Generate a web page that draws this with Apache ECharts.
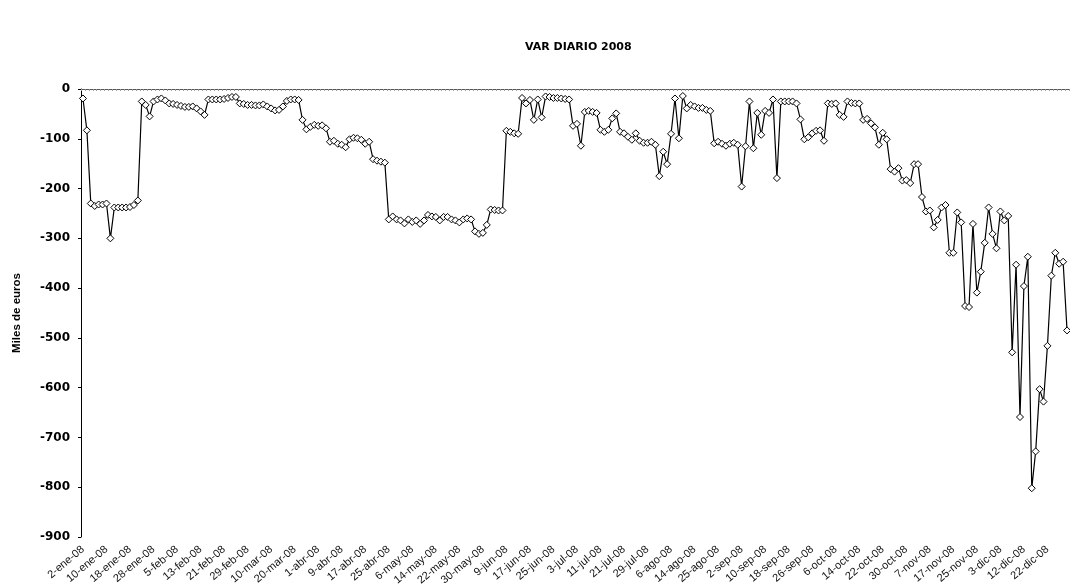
<!DOCTYPE html>
<html>
<head>
<meta charset="utf-8">
<script src="https://cdn.jsdelivr.net/npm/echarts@6/dist/echarts.min.js"></script>
<style>
  html, body { margin: 0; padding: 0; background: #fff; }
  #chart { width: 1070px; height: 588px; }
</style>
</head>
<body>
<div id="chart"></div>
<script>
// Trading days (categories)
const dates = [
  '2-ene-08','3-ene-08','4-ene-08','7-ene-08','8-ene-08','9-ene-08',
  '10-ene-08','11-ene-08','14-ene-08','15-ene-08','16-ene-08','17-ene-08',
  '18-ene-08','21-ene-08','22-ene-08','23-ene-08','24-ene-08','25-ene-08',
  '28-ene-08','29-ene-08','30-ene-08','31-ene-08','1-feb-08','4-feb-08',
  '5-feb-08','6-feb-08','7-feb-08','8-feb-08','11-feb-08','12-feb-08',
  '13-feb-08','14-feb-08','15-feb-08','18-feb-08','19-feb-08','20-feb-08',
  '21-feb-08','22-feb-08','25-feb-08','26-feb-08','27-feb-08','28-feb-08',
  '29-feb-08','3-mar-08','4-mar-08','5-mar-08','6-mar-08','7-mar-08',
  '10-mar-08','11-mar-08','12-mar-08','13-mar-08','14-mar-08','17-mar-08',
  '20-mar-08','25-mar-08','26-mar-08','27-mar-08','28-mar-08','31-mar-08',
  '1-abr-08','2-abr-08','3-abr-08','4-abr-08','7-abr-08','8-abr-08',
  '9-abr-08','10-abr-08','11-abr-08','14-abr-08','15-abr-08','16-abr-08',
  '17-abr-08','18-abr-08','21-abr-08','22-abr-08','23-abr-08','24-abr-08',
  '25-abr-08','28-abr-08','29-abr-08','30-abr-08','2-may-08','5-may-08',
  '6-may-08','7-may-08','8-may-08','9-may-08','12-may-08','13-may-08',
  '14-may-08','15-may-08','16-may-08','19-may-08','20-may-08','21-may-08',
  '22-may-08','23-may-08','26-may-08','27-may-08','28-may-08','29-may-08',
  '30-may-08','2-jun-08','3-jun-08','4-jun-08','5-jun-08','6-jun-08',
  '9-jun-08','10-jun-08','11-jun-08','12-jun-08','13-jun-08','16-jun-08',
  '17-jun-08','18-jun-08','19-jun-08','20-jun-08','23-jun-08','24-jun-08',
  '25-jun-08','26-jun-08','27-jun-08','30-jun-08','1-jul-08','2-jul-08',
  '3-jul-08','4-jul-08','7-jul-08','8-jul-08','9-jul-08','10-jul-08',
  '11-jul-08','14-jul-08','15-jul-08','16-jul-08','17-jul-08','18-jul-08',
  '21-jul-08','22-jul-08','23-jul-08','24-jul-08','25-jul-08','28-jul-08',
  '29-jul-08','30-jul-08','31-jul-08','1-ago-08','4-ago-08','5-ago-08',
  '6-ago-08','7-ago-08','8-ago-08','11-ago-08','12-ago-08','13-ago-08',
  '14-ago-08','18-ago-08','19-ago-08','20-ago-08','21-ago-08','22-ago-08',
  '25-ago-08','26-ago-08','27-ago-08','28-ago-08','29-ago-08','1-sep-08',
  '2-sep-08','3-sep-08','4-sep-08','5-sep-08','8-sep-08','9-sep-08',
  '10-sep-08','11-sep-08','12-sep-08','15-sep-08','16-sep-08','17-sep-08',
  '18-sep-08','19-sep-08','22-sep-08','23-sep-08','24-sep-08','25-sep-08',
  '26-sep-08','29-sep-08','30-sep-08','1-oct-08','2-oct-08','3-oct-08',
  '6-oct-08','7-oct-08','8-oct-08','9-oct-08','10-oct-08','13-oct-08',
  '14-oct-08','15-oct-08','16-oct-08','17-oct-08','20-oct-08','21-oct-08',
  '22-oct-08','23-oct-08','24-oct-08','27-oct-08','28-oct-08','29-oct-08',
  '30-oct-08','31-oct-08','3-nov-08','4-nov-08','5-nov-08','6-nov-08',
  '7-nov-08','10-nov-08','11-nov-08','12-nov-08','13-nov-08','14-nov-08',
  '17-nov-08','18-nov-08','19-nov-08','20-nov-08','21-nov-08','24-nov-08',
  '25-nov-08','26-nov-08','27-nov-08','28-nov-08','1-dic-08','2-dic-08',
  '3-dic-08','4-dic-08','5-dic-08','9-dic-08','10-dic-08','11-dic-08',
  '12-dic-08','15-dic-08','16-dic-08','17-dic-08','18-dic-08','19-dic-08',
  '22-dic-08','23-dic-08','24-dic-08','26-dic-08','29-dic-08','30-dic-08'
];

// Daily VaR (miles de euros)
const varDiario = [
  -19,-83,-230,-235,-232,-232,-230,-300,-238,-238,-238,-238,-237,-233,-224,-25,-32,-55,-25,-21,
  -19,-23,-29,-30,-32,-34,-36,-36,-35,-39,-45,-52,-21,-21,-21,-21,-20,-18,-16,-16,
  -29,-30,-32,-32,-33,-33,-31,-35,-39,-43,-42,-35,-24,-21,-21,-22,-62,-81,-76,-72,
  -74,-73,-79,-106,-104,-110,-112,-117,-101,-98,-99,-102,-110,-106,-141,-144,-146,-148,-262,-256,
  -262,-264,-270,-262,-267,-264,-271,-264,-253,-256,-257,-264,-257,-257,-262,-264,-268,-262,-260,-262,
  -286,-291,-289,-273,-242,-243,-244,-244,-84,-86,-89,-90,-18,-29,-22,-62,-21,-57,-15,-16,
  -18,-18,-19,-20,-21,-74,-70,-114,-46,-44,-46,-48,-82,-86,-82,-59,-49,-86,-89,-96,
  -102,-89,-104,-108,-108,-106,-112,-175,-126,-151,-90,-19,-99,-14,-39,-32,-35,-38,-38,-42,
  -44,-109,-106,-110,-114,-110,-108,-112,-196,-115,-25,-119,-48,-92,-44,-48,-21,-179,-25,-25,
  -25,-25,-29,-61,-101,-97,-89,-84,-83,-104,-29,-30,-29,-52,-56,-25,-28,-29,-29,-62,
  -60,-69,-77,-112,-88,-101,-161,-166,-159,-184,-183,-189,-151,-151,-217,-246,-244,-278,-263,-238,
  -233,-329,-329,-248,-268,-436,-438,-271,-409,-367,-309,-238,-291,-320,-246,-264,-255,-529,-353,-659,
  -396,-337,-802,-728,-603,-628,-516,-375,-329,-351,-347,-485
];

const yTicks = { min: -900, max: 0, step: 100 };
const titleText = 'VAR DIARIO 2008';
const yAxisTitle = 'Miles de euros';

const chart = echarts.init(document.getElementById('chart'), null, { renderer: 'canvas' });
const ARIAL = '"Liberation Sans", Arial, sans-serif';
const WIDE = '"DejaVu Sans", sans-serif';

chart.setOption({
  backgroundColor: '#ffffff',
  animation: false,
  title: {
    text: titleText,
    left: 520,
    top: 37,
    textStyle: { fontFamily: WIDE, fontSize: 11, fontWeight: 'bold', color: '#000' }
  },
  grid: { left: 81, right: 1, top: 89, bottom: 51, containLabel: false },
  xAxis: [
    {
      type: 'category',
      data: dates,
      position: 'bottom',
      boundaryGap: true,
      axisLine: { show: false },
      axisTick: { show: false },
      axisLabel: {
        interval: 5,
        rotate: 40,
        margin: 11,
        fontFamily: ARIAL,
        fontSize: 11,
        color: '#111'
      },
      splitLine: { show: false }
    },
    {
      type: 'category',
      data: dates,
      position: 'top',
      boundaryGap: true,
      axisLine: { show: true, lineStyle: { color: '#555', width: 1.2 } },
      axisTick: { show: true, interval: 0, inside: true, length: 2, lineStyle: { color: '#999', width: 1 } },
      axisLabel: { show: false },
      splitLine: { show: false }
    }
  ],
  yAxis: {
    type: 'value',
    min: yTicks.min,
    max: yTicks.max,
    interval: yTicks.step,
    name: yAxisTitle,
    nameLocation: 'middle',
    nameGap: 58,
    nameTextStyle: { fontFamily: ARIAL, fontSize: 11.5, fontWeight: 'bold', color: '#000' },
    axisLine: { show: true, lineStyle: { color: '#000', width: 1 } },
    axisTick: { show: true, length: 3, lineStyle: { color: '#000' } },
    axisLabel: { fontFamily: WIDE, fontSize: 12, fontWeight: 'bold', color: '#000', margin: 11 },
    splitLine: { show: false }
  },
  series: [{
    type: 'line',
    xAxisIndex: 0,
    data: varDiario,
    symbol: 'diamond',
    symbolSize: 7,
    showAllSymbol: true,
    lineStyle: { color: '#000', width: 1.2 },
    itemStyle: { color: '#fff', borderColor: '#000', borderWidth: 1 },
    emphasis: { disabled: true }
  }]
});
</script>
</body>
</html>
